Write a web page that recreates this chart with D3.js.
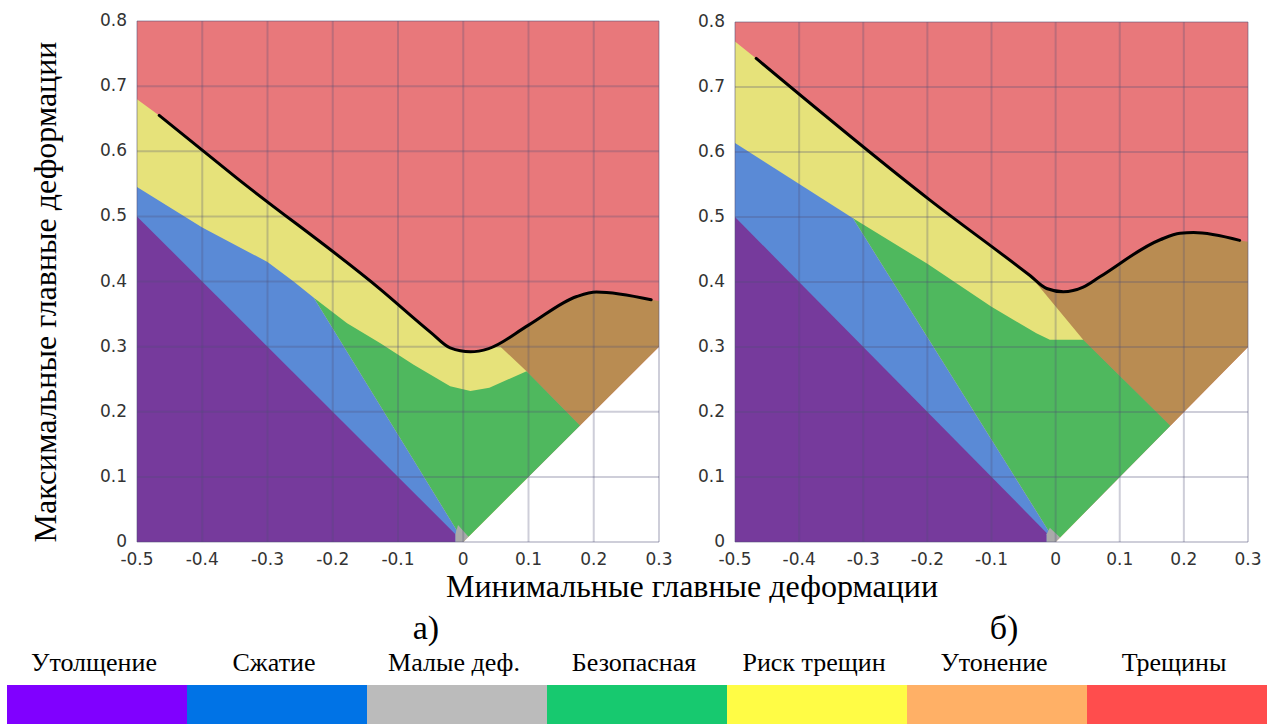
<!DOCTYPE html>
<html lang="ru">
<head>
  <meta charset="UTF-8" />
  <title>Диаграмма предельных деформаций</title>
  <style>
    body {
      margin: 0;
      background: #fff;
    }

    svg {
      display: block;
    }

    .tick-label {
      font-family: "DejaVu Sans", Verdana, sans-serif;
      font-size: 17px;
      fill: #333;
    }

    .title {
      font-family: "Liberation Serif", "Times New Roman", serif;
      fill: #000;
    }

    .grid line {
      stroke: rgba(80, 80, 120, 0.28);
      stroke-width: 2px;
    }

    .flc {
      fill: none;
      stroke: #000;
      stroke-width: 3px;
      stroke-linejoin: round;
      stroke-linecap: round;
    }
  </style>
</head>
<body>
  <svg width="1269" height="724"></svg>

  <script src="https://cdnjs.cloudflare.com/ajax/libs/d3/7.8.5/d3.min.js"></script>
  <script>
    // axis ticks (minor / major principal strain)
    const xTicks = [-0.5, -0.4, -0.3, -0.2, -0.1, 0, 0.1, 0.2, 0.3];
    const yTicks = [0, 0.1, 0.2, 0.3, 0.4, 0.5, 0.6, 0.7, 0.8];

    // legend
    const zoneNames = ["Утолщение", "Сжатие", "Малые деф.", "Безопасная", "Риск трещин", "Утонение", "Трещины"];

    // ---- panel а) : zone outlines as [minor, major] strain ----
    const flcA = [[-0.466, 0.655], [-0.346, 0.558], [-0.127, 0.388], [-0.05, 0.322], [-0.02, 0.298],
                  [0.011, 0.292], [0.039, 0.297], [0.1, 0.333], [0.174, 0.377], [0.204, 0.384], [0.288, 0.372]];
    const crackA = [[-0.5, 0], [-0.5, 0.8], [0.3, 0.8], [0.3, 0.3], [0, 0]];
    const riskA = [[-0.5, 0.68], [-0.466, 0.655], [-0.346, 0.558], [-0.127, 0.388], [-0.05, 0.322], [-0.02, 0.298],
                   [0.011, 0.292], [0.039, 0.297], [0.1, 0.333], [0.1, 0.1], [0, 0], [-0.5, 0]];
    const thinA = [[0.045, 0.3], [0.1, 0.333], [0.174, 0.377], [0.204, 0.384], [0.288, 0.372], [0.3, 0.37],
                   [0.3, 0.3], [0.179, 0.179], [0.097, 0.262], [0.057, 0.3]];
    const safeA = [[-0.229, 0.375], [-0.178, 0.336], [-0.127, 0.305], [-0.076, 0.272], [-0.02, 0.239],
                   [0.011, 0.232], [0.04, 0.237], [0.097, 0.262], [0.179, 0.179], [0.008, 0.008], [-0.01, 0.018]];
    const compA = [[-0.5, 0.545], [-0.4, 0.483], [-0.3, 0.43], [-0.26, 0.4], [-0.229, 0.375],
                   [-0.01, 0.018], [-0.011, 0], [-0.5, 0]];
    const thickA = [[-0.5, 0.5], [-0.012, 0.012], [-0.012, 0], [-0.5, 0]];
    const smallA = [[-0.012, 0], [-0.012, 0.012], [-0.008, 0.026], [0.008, 0.008], [0, 0]];

    // ---- panel б) ----
    const flcB = [[-0.467, 0.744], [-0.196, 0.526], [-0.04, 0.41], [-0.014, 0.39], [0.012, 0.385], [0.043, 0.392],
                  [0.069, 0.408], [0.163, 0.465], [0.194, 0.475], [0.215, 0.476], [0.287, 0.464]];
    const crackB = [[-0.5, 0], [-0.5, 0.8], [0.3, 0.8], [0.3, 0.3], [0, 0]];
    const riskB = [[-0.5, 0.77], [-0.467, 0.744], [-0.196, 0.526], [-0.04, 0.41], [-0.014, 0.39], [0.012, 0.385],
                   [0.043, 0.392], [0.043, 0.043], [0, 0], [-0.5, 0]];
    const thinB = [[-0.04, 0.41], [-0.014, 0.39], [0.012, 0.385], [0.043, 0.392], [0.069, 0.408], [0.163, 0.465],
                   [0.194, 0.475], [0.215, 0.476], [0.287, 0.464], [0.3, 0.462], [0.3, 0.3], [0.179, 0.179], [0.043, 0.311]];
    const safeB = [[-0.316, 0.498], [-0.2, 0.428], [-0.1, 0.362], [-0.03, 0.321], [-0.009, 0.311], [0.043, 0.311],
                   [0.179, 0.179], [0.007, 0.007], [-0.009, 0.014]];
    const compB = [[-0.5, 0.614], [-0.316, 0.498], [-0.009, 0.014], [-0.012, 0], [-0.5, 0]];
    const thickB = [[-0.5, 0.5], [-0.014, 0.014], [-0.014, 0], [-0.5, 0]];
    const smallB = [[-0.014, 0], [-0.014, 0.012], [-0.009, 0.022], [0.007, 0.007], [0, 0]];

    // fill colours inside the plots and in the legend bar
    const plotColor = {
      crack: "#e8787b", risk: "#e6e27a", thin: "#b98c52", safe: "#4fb85e",
      comp: "#5a8ad6", thick: "#763a9c", small: "#aaaaaa"
    };
    const legendColor = ["#8000ff", "#0073e6", "#bbbbbb", "#17c96f", "#fffc45", "#ffb066", "#ff4d4d"];

    const svg = d3.select("svg");

    function drawPanel(left, right, top, zones, flc) {
      const x = d3.scaleLinear().domain([-0.5, 0.3]).range([left, right]);
      const y = d3.scaleLinear().domain([0, 0.8]).range([542, top]);
      const g = svg.append("g");

      const area = d3.line().x(d => x(d[0])).y(d => y(d[1]));

      // painter's order: later zones sit on top
      g.append("g")
        .selectAll("path")
        .data(zones)
        .join("path")
        .attr("d", d => area(d.pts) + "Z")
        .attr("fill", d => plotColor[d.key]);

      const grid = g.append("g").attr("class", "grid");
      grid.selectAll("line.v")
        .data(xTicks)
        .join("line")
        .attr("class", "v")
        .attr("x1", d => x(d)).attr("x2", d => x(d))
        .attr("y1", y(0)).attr("y2", y(0.8));
      grid.selectAll("line.h")
        .data(yTicks)
        .join("line")
        .attr("class", "h")
        .attr("x1", x(-0.5)).attr("x2", x(0.3))
        .attr("y1", d => y(d)).attr("y2", d => y(d));

      g.append("path")
        .datum(flc)
        .attr("class", "flc")
        .attr("d", d3.line().x(d => x(d[0])).y(d => y(d[1])).curve(d3.curveMonotoneX));

      g.append("g")
        .selectAll("text")
        .data(xTicks)
        .join("text")
        .attr("class", "tick-label")
        .attr("x", d => x(d))
        .attr("y", 565)
        .attr("text-anchor", "middle")
        .text(d => d3.format("~g")(d).replace("−", "-"));

      g.append("g")
        .selectAll("text")
        .data(yTicks)
        .join("text")
        .attr("class", "tick-label")
        .attr("x", left - 10)
        .attr("y", d => y(d))
        .attr("dy", "0.3em")
        .attr("text-anchor", "end")
        .text(d => d3.format("~g")(d));
    }

    drawPanel(137, 659, 21, [
      {key: "crack", pts: crackA}, {key: "risk", pts: riskA}, {key: "thin", pts: thinA},
      {key: "safe", pts: safeA}, {key: "comp", pts: compA}, {key: "thick", pts: thickA},
      {key: "small", pts: smallA}
    ], flcA);

    drawPanel(735, 1248, 22, [
      {key: "crack", pts: crackB}, {key: "risk", pts: riskB}, {key: "thin", pts: thinB},
      {key: "safe", pts: safeB}, {key: "comp", pts: compB}, {key: "thick", pts: thickB},
      {key: "small", pts: smallB}
    ], flcB);

    // axis titles and panel captions
    svg.append("text")
      .attr("class", "title")
      .attr("transform", "translate(56,292) rotate(-90)")
      .attr("text-anchor", "middle")
      .style("font-size", "32px")
      .text("Максимальные главные деформации");

    svg.append("text")
      .attr("class", "title")
      .attr("x", 692)
      .attr("y", 597)
      .attr("text-anchor", "middle")
      .style("font-size", "32px")
      .text("Минимальные главные деформации");

    svg.append("text")
      .attr("class", "title")
      .attr("x", 426)
      .attr("y", 639)
      .attr("text-anchor", "middle")
      .style("font-size", "34px")
      .text("а)");

    svg.append("text")
      .attr("class", "title")
      .attr("x", 1004)
      .attr("y", 639)
      .attr("text-anchor", "middle")
      .style("font-size", "34px")
      .text("б)");

    // legend bar
    const lx = d3.scaleBand().domain(zoneNames).range([7, 1267]);

    svg.append("g")
      .selectAll("rect")
      .data(zoneNames)
      .join("rect")
      .attr("x", d => lx(d))
      .attr("y", 685)
      .attr("width", lx.bandwidth())
      .attr("height", 39)
      .attr("fill", (d, i) => legendColor[i]);

    svg.append("g")
      .selectAll("text")
      .data(zoneNames)
      .join("text")
      .attr("class", "title")
      .attr("x", d => lx(d) + lx.bandwidth() / 2 - 3)
      .attr("y", 671)
      .attr("text-anchor", "middle")
      .style("font-size", "26px")
      .text(d => d);
  </script>
</body>
</html>
